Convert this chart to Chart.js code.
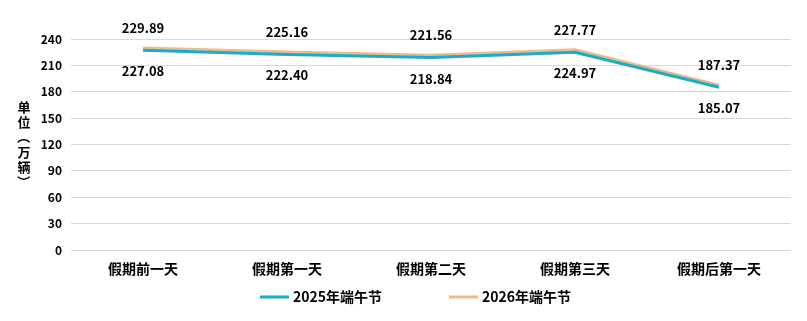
<!DOCTYPE html>
<html><head><meta charset="utf-8">
<script src="https://cdn.jsdelivr.net/npm/chart.js@4/dist/chart.umd.min.js"></script>
<style>
html,body{margin:0;padding:0;background:#fff;}
</style></head>
<body><canvas id="c" width="807" height="321"></canvas>
<script>
const categories = ["假期前一天","假期第一天","假期第二天","假期第三天","假期后第一天"];
const series2025 = [227.08,222.40,218.84,224.97,185.07];
const series2026 = [229.89,225.16,221.56,227.77,187.37];
const seriesNames = ["2025年端午节","2026年端午节"];
const yTicks = [0,30,60,90,120,150,180,210,240];
const yTitle = "单位（万辆）";
const colors = ['#14B0C5','#F7B68A'];
const FONT = '"Noto Sans CJK SC"';

const labelPlugin = {
  id:'labels',
  afterDatasetsDraw(chart){
    const ctx = chart.ctx;
    ctx.save();
    ctx.font = 'bold 13px ' + FONT;
    ctx.fillStyle = '#000';
    ctx.textAlign = 'center';
    ctx.textBaseline = 'middle';
    chart.data.datasets.forEach((ds,i)=>{
      const meta = chart.getDatasetMeta(i);
      meta.data.forEach((pt,j)=>{
        const off = i===0 ? 21 : -20;
        ctx.fillText(ds.data[j].toFixed(2), pt.x, pt.y+off);
      });
    });
    ctx.restore();
  }
};

const extrasPlugin = {
  id:'extras',
  afterDraw(chart){
    const ctx = chart.ctx;
    ctx.save();
    // y title, stacked vertical characters
    ctx.font = 'bold 13px ' + FONT;
    ctx.fillStyle = '#000';
    ctx.textAlign = 'center';
    ctx.textBaseline = 'middle';
    const chars = Array.from(yTitle);
    const step = 15;
    const x = 24;
    const y0 = 107;
    chars.forEach((c,k)=>{
      const y = y0 + k*step;
      if (c==='（'||c==='）'){
        ctx.save(); ctx.translate(x,y); ctx.rotate(Math.PI/2); ctx.fillText(c,0,0); ctx.restore();
      } else ctx.fillText(c,x,y);
    });
    // legend
    ctx.font = 'bold 14px ' + FONT;
    ctx.textAlign = 'left';
    const starts = [260, 449];
    const ly = 297;
    chart.data.datasets.forEach((ds,i)=>{
      const lx = starts[i];
      ctx.fillStyle = colors[i];
      ctx.fillRect(lx, ly-1.5, 29, 3);
      ctx.fillStyle = '#000';
      ctx.fillText(ds.label, lx+33, ly);
    });
    ctx.restore();
  }
};

new Chart(document.getElementById('c'),{
  type:'line',
  data:{labels:categories,datasets:[
    {label:seriesNames[0],data:series2025,borderColor:colors[0],backgroundColor:colors[0],borderWidth:3,pointRadius:0,tension:0},
    {label:seriesNames[1],data:series2026,borderColor:colors[1],backgroundColor:colors[1],borderWidth:3,pointRadius:0,tension:0}
  ]},
  options:{
    responsive:false,animation:false,
    layout:{padding:{top:39,left:0,right:16,bottom:0}},
    plugins:{
      legend:{display:false},
      tooltip:{enabled:false}
    },
    scales:{
      x:{offset:true,grid:{display:false},border:{display:false},afterFit(s){s.height=71;},
        ticks:{color:'#000',padding:2,font:{family:FONT,size:14,weight:'bold'}}},
      y:{min:0,max:240,afterBuildTicks(s){s.ticks=yTicks.map(v=>({value:v}));},afterFit(s){s.width=71;},
        grid:{color:'#D9D9D9',drawTicks:false},border:{display:false},
        ticks:{color:'#000',padding:9,font:{family:FONT,size:12,weight:'bold'}}}
    }
  },
  plugins:[labelPlugin, extrasPlugin]
});
</script></body></html>
